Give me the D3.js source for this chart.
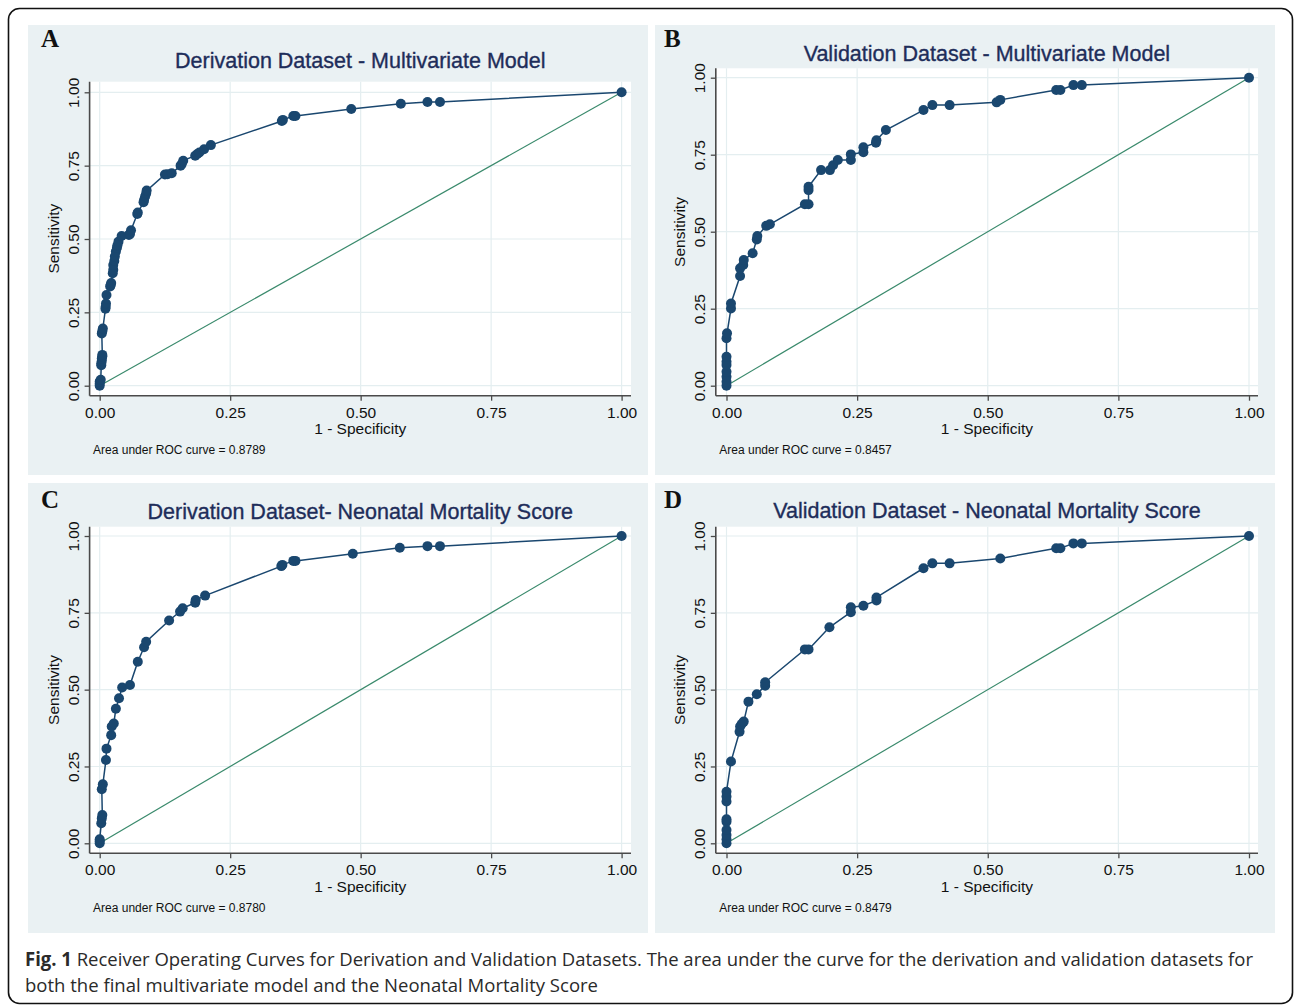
<!DOCTYPE html>
<html>
<head>
<meta charset="utf-8">
<script src="https://cdn.jsdelivr.net/npm/d3@7"></script>
<style>
  body { margin: 0; background: #fff; }
  text { font-family: "Liberation Sans", Arial, sans-serif; }
</style>
</head>
<body>
<svg id="fig" width="1295" height="1006"></svg>
<script>
// ROC points as [1 - specificity, sensitivity]
const rocDerivMulti = [
  [0,0],[0,0.007],[0,0.014],[0.002,0.02],[0.003,0.07],[0.003,0.076],[0.004,0.085],[0.004,0.093],
  [0.005,0.1],[0.005,0.105],[0.004,0.178],[0.005,0.186],[0.006,0.195],[0.011,0.262],[0.0115,0.269],
  [0.012,0.28],[0.013,0.309],[0.02,0.338],[0.021,0.343],[0.022,0.35],[0.025,0.383],[0.026,0.395],
  [0.026,0.411],[0.028,0.425],[0.029,0.44],[0.031,0.457],[0.033,0.47],[0.034,0.479],[0.036,0.491],
  [0.042,0.51],[0.056,0.514],[0.058,0.517],[0.06,0.53],[0.072,0.585],[0.073,0.59],[0.084,0.625],
  [0.085,0.633],[0.087,0.645],[0.089,0.655],[0.09,0.665],[0.125,0.72],[0.13,0.721],[0.138,0.724],
  [0.155,0.75],[0.157,0.755],[0.16,0.767],[0.183,0.784],[0.187,0.79],[0.191,0.795],[0.2,0.806],
  [0.213,0.82],[0.349,0.902],[0.351,0.906],[0.371,0.919],[0.375,0.919],[0.482,0.943],[0.577,0.961],
  [0.628,0.967],[0.652,0.967],[1,1]
];
const rocValidMulti = [
  [0,0],[0,0.013],[0,0.029],[0,0.045],[0,0.067],[0,0.078],[0,0.094],[0,0.154],[0.001,0.17],
  [0.0086,0.251],[0.0086,0.267],[0.026,0.356],[0.026,0.381],[0.032,0.392],[0.033,0.408],[0.05,0.43],
  [0.058,0.475],[0.059,0.486],[0.076,0.519],[0.083,0.524],[0.15,0.589],[0.157,0.589],[0.157,0.635],
  [0.157,0.646],[0.181,0.7],[0.198,0.7],[0.204,0.716],[0.213,0.733],[0.238,0.733],[0.238,0.751],
  [0.262,0.758],[0.262,0.774],[0.286,0.789],[0.287,0.797],[0.305,0.83],[0.377,0.895],[0.394,0.911],
  [0.427,0.911],[0.517,0.92],[0.524,0.928],[0.631,0.96],[0.639,0.96],[0.664,0.976],[0.68,0.976],[1,1]
];
const rocDerivNms = [
  [0,0],[0,0.007],[0,0.013],[0.003,0.065],[0.004,0.081],[0.005,0.092],[0.004,0.176],[0.006,0.192],
  [0.012,0.271],[0.013,0.308],[0.022,0.352],[0.023,0.38],[0.027,0.39],[0.031,0.438],[0.037,0.472],
  [0.043,0.507],[0.058,0.515],[0.073,0.591],[0.085,0.638],[0.089,0.656],[0.133,0.725],[0.154,0.754],
  [0.159,0.765],[0.183,0.783],[0.184,0.792],[0.202,0.806],[0.348,0.902],[0.35,0.906],[0.371,0.919],
  [0.375,0.919],[0.485,0.942],[0.575,0.962],[0.628,0.967],[0.652,0.967],[1,1]
];
const rocValidNms = [
  [0,0],[0,0.013],[0,0.027],[0,0.043],[0,0.07],[0,0.078],[0,0.136],[0,0.152],[0,0.168],
  [0.0086,0.266],[0.025,0.363],[0.026,0.38],[0.029,0.388],[0.033,0.396],[0.042,0.461],[0.058,0.485],
  [0.074,0.513],[0.074,0.524],[0.15,0.631],[0.157,0.631],[0.197,0.703],[0.238,0.752],[0.238,0.768],
  [0.262,0.773],[0.287,0.79],[0.287,0.8],[0.377,0.895],[0.394,0.911],[0.427,0.911],[0.524,0.927],
  [0.631,0.96],[0.639,0.96],[0.664,0.976],[0.68,0.976],[1,1]
];

const panelLetters = ["A", "B", "C", "D"];
const panelTitles = [
  "Derivation Dataset - Multivariate Model",
  "Validation Dataset - Multivariate Model",
  "Derivation Dataset- Neonatal Mortality Score",
  "Validation Dataset - Neonatal Mortality Score"
];
const aucValues = ["0.8789", "0.8457", "0.8780", "0.8479"];
const tickValues = [0, 0.25, 0.5, 0.75, 1];
const xTitle = "1 - Specificity";
const yTitle = "Sensitivity";
const captionBold = "Fig. 1";
const captionLines = [
  " Receiver Operating Curves for Derivation and Validation Datasets. The area under the curve for the derivation and validation datasets for",
  "both the final multivariate model and the Neonatal Mortality Score"
];

// colours (Stata s2color look)
const bgColor = "#eaf1f3";
const gridColor = "#e4eef0";
const navy = "#1a476f";
const refColor = "#3a8a6c";
const axisColor = "#4a4a4a";
const titleColor = "#1e2d5a";

const svg = d3.select("#fig");

// outer rounded frame
svg.append("rect")
  .attr("x", 8.5).attr("y", 8.5)
  .attr("width", 1284).attr("height", 995)
  .attr("rx", 11)
  .attr("fill", "none")
  .attr("stroke", "#111")
  .attr("stroke-width", 1.6);

// panel placement
const panels = [
  { data: rocDerivMulti, bx: 28,  by: 25,  px0: 89.6,  px1: 631,  py0: 81.7,  py1: 395.7, xr: [99.7, 621.6], yr: [385.7, 92.3], titleY: 68,  letterX: 41,  letterY: 47 },
  { data: rocValidMulti, bx: 655, by: 25,  px0: 715.8, px1: 1258, py0: 68.3,  py1: 395.7, xr: [726.5, 1249], yr: [385.7, 77.7], titleY: 61,  letterX: 664, letterY: 47 },
  { data: rocDerivNms,   bx: 28,  by: 483, px0: 89.6,  px1: 631,  py0: 526.7, py1: 853.3, xr: [99.7, 621.6], yr: [843.3, 536],  titleY: 519, letterX: 41,  letterY: 508 },
  { data: rocValidNms,   bx: 655, by: 483, px0: 715.8, px1: 1258, py0: 526.7, py1: 853.3, xr: [726.5, 1249], yr: [843.3, 536],  titleY: 518, letterX: 664, letterY: 508 }
];

panels.forEach((p, i) => {
  const g = svg.append("g");
  const x = d3.scaleLinear().domain([0, 1]).range(p.xr);
  const y = d3.scaleLinear().domain([0, 1]).range(p.yr);

  // panel background
  g.append("rect")
    .attr("x", p.bx).attr("y", p.by)
    .attr("width", 620).attr("height", 450)
    .attr("fill", bgColor);

  // plot region
  g.append("rect")
    .attr("x", p.px0).attr("y", p.py0)
    .attr("width", p.px1 - p.px0).attr("height", p.py1 - p.py0)
    .attr("fill", "#fff");

  // grid lines
  g.append("g").selectAll("line").data(tickValues).enter().append("line")
    .attr("x1", d => x(d)).attr("x2", d => x(d))
    .attr("y1", p.py0).attr("y2", p.py1)
    .attr("stroke", gridColor).attr("stroke-width", 1.2);
  g.append("g").selectAll("line").data(tickValues).enter().append("line")
    .attr("y1", d => y(d)).attr("y2", d => y(d))
    .attr("x1", p.px0).attr("x2", p.px1)
    .attr("stroke", gridColor).attr("stroke-width", 1.2);

  // x axis
  const xAxis = g.append("g")
    .attr("transform", `translate(0,${p.py1})`)
    .call(d3.axisBottom(x).tickValues(tickValues).tickFormat(d3.format(".2f")).tickSize(5).tickSizeOuter(0));
  xAxis.select(".domain").remove();
  xAxis.selectAll(".tick line").attr("stroke", axisColor).attr("stroke-width", 1.3);
  xAxis.selectAll(".tick text")
    .attr("y", 22).attr("dy", 0)
    .attr("font-size", 15.5).attr("fill", "#111")
    .style("font-family", "Liberation Sans, Arial, sans-serif");

  // y axis, labels turned upward as in Stata
  const yAxis = g.append("g")
    .attr("transform", `translate(${p.px0},0)`)
    .call(d3.axisLeft(y).tickValues(tickValues).tickFormat(d3.format(".2f")).tickSize(5).tickSizeOuter(0));
  yAxis.select(".domain").remove();
  yAxis.selectAll(".tick line").attr("stroke", axisColor).attr("stroke-width", 1.3);
  yAxis.selectAll(".tick text")
    .attr("transform", "rotate(-90)")
    .attr("x", 0).attr("y", -11).attr("dy", 0)
    .attr("text-anchor", "middle")
    .attr("font-size", 15.5).attr("fill", "#111")
    .style("font-family", "Liberation Sans, Arial, sans-serif");

  // axis lines
  g.append("line")
    .attr("x1", p.px0).attr("x2", p.px0).attr("y1", p.py0).attr("y2", p.py1)
    .attr("stroke", axisColor).attr("stroke-width", 1.6);
  g.append("line")
    .attr("x1", p.px0).attr("x2", p.px1).attr("y1", p.py1).attr("y2", p.py1)
    .attr("stroke", axisColor).attr("stroke-width", 1.6);

  // reference diagonal
  g.append("line")
    .attr("x1", x(0)).attr("y1", y(0)).attr("x2", x(1)).attr("y2", y(1))
    .attr("stroke", refColor).attr("stroke-width", 1.2);

  // ROC curve
  const line = d3.line().x(d => x(d[0])).y(d => y(d[1]));
  g.append("path")
    .datum(p.data)
    .attr("d", line)
    .attr("fill", "none")
    .attr("stroke", navy)
    .attr("stroke-width", 1.5);
  g.append("g").selectAll("circle").data(p.data).enter().append("circle")
    .attr("cx", d => x(d[0])).attr("cy", d => y(d[1]))
    .attr("r", 5)
    .attr("fill", navy);

  // titles and labels
  g.append("text")
    .attr("x", (p.px0 + p.px1) / 2).attr("y", p.titleY)
    .attr("text-anchor", "middle")
    .attr("font-size", 21.5)
    .attr("fill", titleColor)
    .attr("stroke", titleColor).attr("stroke-width", 0.35)
    .text(panelTitles[i]);

  g.append("text")
    .attr("x", (p.px0 + p.px1) / 2).attr("y", p.py1 + 38.5)
    .attr("text-anchor", "middle")
    .attr("font-size", 15.5).attr("fill", "#111")
    .text(xTitle);

  g.append("text")
    .attr("transform", `translate(${p.px0 - 31},${(p.py0 + p.py1) / 2}) rotate(-90)`)
    .attr("text-anchor", "middle")
    .attr("font-size", 15.5).attr("fill", "#111")
    .text(yTitle);

  g.append("text")
    .attr("x", p.px0 + 3.5).attr("y", p.py1 + 58.5)
    .attr("font-size", 12).attr("fill", "#111")
    .text("Area under ROC curve = " + aucValues[i]);

  g.append("text")
    .attr("x", p.letterX).attr("y", p.letterY)
    .attr("font-size", 25).attr("font-weight", "bold")
    .style("font-family", "Liberation Serif, Times New Roman, serif")
    .attr("fill", "#111")
    .text(panelLetters[i]);
});

// caption
const cap1 = svg.append("text")
  .attr("x", 25).attr("y", 966)
  .attr("font-size", 19).attr("fill", "#2a2a2a")
  .style("font-family", "Open Sans, sans-serif");
cap1.append("tspan").attr("font-weight", "bold").text(captionBold);
cap1.append("tspan").text(captionLines[0]);
cap1.attr("textLength", 1228).attr("lengthAdjust", "spacingAndGlyphs");

svg.append("text")
  .attr("x", 25).attr("y", 992)
  .attr("font-size", 19).attr("fill", "#2a2a2a")
  .style("font-family", "Open Sans, sans-serif")
  .attr("textLength", 573).attr("lengthAdjust", "spacingAndGlyphs")
  .text(captionLines[1]);
</script>
</body>
</html>
